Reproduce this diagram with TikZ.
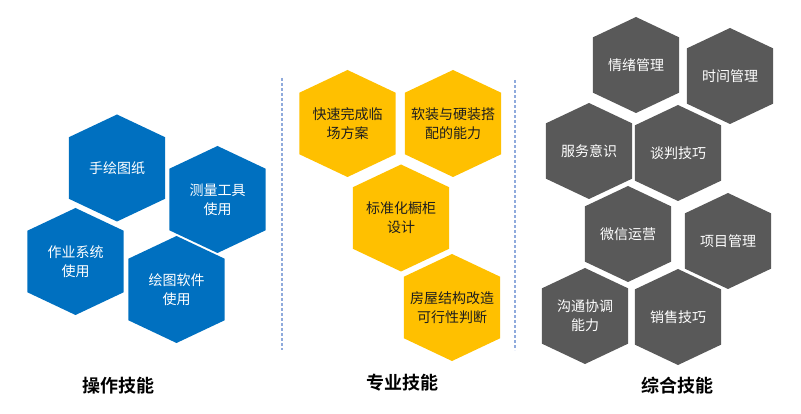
\documentclass[tikz,border=0pt]{standalone}
\usepackage{fontspec}
\setmainfont{Noto Sans CJK SC}[BoldFont=Noto Sans CJK SC Bold]
\usepackage{xcolor}
\definecolor{opblue}{RGB}{0, 112, 192}
\definecolor{proyellow}{RGB}{255, 192, 0}
\definecolor{mixgrey}{RGB}{89, 89, 89}
\definecolor{divblue}{RGB}{143, 170, 220}
\definecolor{inkdark}{RGB}{30, 30, 30}
\usepackage{tikz}
\usetikzlibrary{positioning}

\tikzset{
  pics/hexcell/.style args={#1/#2}{code={
    \fill[#1] (0,-#2) -- (0.9*#2,-0.575*#2) -- (0.9*#2,0.575*#2) -- (0,#2)
      -- (-0.9*#2,0.575*#2) -- (-0.9*#2,-0.575*#2) -- cycle;
  }},
  celltext/.style={font=\fontsize{14}{19}\selectfont, align=center, text=white},
  paneltitle/.style={font=\fontsize{18}{22}\selectfont\bfseries, text=black},
  divider/.style={divblue, line width=1.2pt, dash pattern=on 3pt off 2pt},
}

\begin{document}
\begin{tikzpicture}[x=1pt, y=-1pt]
  \useasboundingbox (0,0) rectangle (801,414);

  % ---------- LEFT PANEL: operating skills ----------
  \foreach \n/\x/\y/\t in {draw/117/168/{手绘图纸},
                           measure/217.5/199.5/{测量工具\\使用},
                           system/75.5/261.5/{作业系统\\使用},
                           soft/176.5/289.5/{绘图软件\\使用}} {
    \pic at (\x,\y) {hexcell=opblue/53.5};
    \node[celltext] (\n) at (\x,\y) {\t};
  }
  \node[paneltitle] (optitle) at (118,386) {操作技能};

  % dividers
  \coordinate (d1top) at (282,78);
  \coordinate (d1bot) at (282,350);
  \coordinate (d2top) at (515,80);
  \coordinate (d2bot) at (515,350);
  \draw[divider] (d1top) -- (d1bot);
  \draw[divider] (d2top) -- (d2bot);

  % ---------- MIDDLE PANEL: professional skills ----------
  \foreach \n/\x/\y/\t in {quick/347.5/123.5/{快速完成临\\场方案},
                           match/453/123.5/{软装与硬装搭\\配的能力},
                           cabinet/401/218/{标准化橱柜\\设计},
                           rebuild/452/307.5/{房屋结构改造\\可行性判断}} {
    \pic at (\x,\y) {hexcell=proyellow/53.5};
    \node[celltext, text=inkdark] (\n) at (\x,\y) {\t};
  }
  \node[paneltitle] (protitle) at (402,383) {专业技能};

  % ---------- RIGHT PANEL: general skills ----------
  \foreach \n/\x/\y/\t in {mood/636/65/{情绪管理},
                           timing/730/76/{时间管理},
                           service/589/151/{服务意识},
                           deal/678/153/{谈判技巧},
                           wechat/628/234/{微信运营},
                           project/728/241/{项目管理},
                           talk/585/316/{沟通协调\\能力},
                           sales/678/317/{销售技巧}} {
    \pic at (\x,\y) {hexcell=mixgrey/48};
    \node[celltext] (\n) at (\x,\y) {\t};
  }
  \node[paneltitle] (gentitle) at (677,386) {综合技能};

\end{tikzpicture}
\end{document}
